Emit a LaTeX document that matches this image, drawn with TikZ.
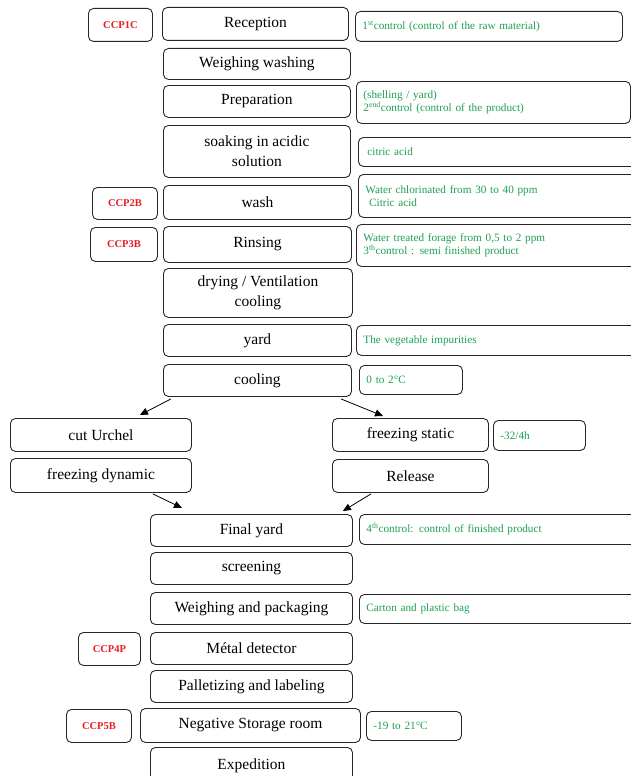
\documentclass[tikz,border=0pt]{standalone}
\usepackage{fontspec}
\setmainfont{Liberation Serif}
\usepackage{tikz}
\usetikzlibrary{positioning,shapes,arrows.meta,calc}

\definecolor{ccpred}{RGB}{232,28,36}
\definecolor{notegreen}{RGB}{28,160,80}

\tikzset{
  box/.style={draw=black!85, line width=0.9pt, rounded corners=5pt, anchor=north west, inner sep=0pt},
  stepbox/.style={box, align=center, font=\fontsize{15.5}{20}\selectfont},
  ccpbox/.style={box, text=ccpred, font=\bfseries\fontsize{10.5}{12}\selectfont},
  notebox/.style={box, align=left, inner xsep=7pt, text=notegreen, font=\fontsize{11.2}{13}\selectfont},
  flow/.style={line width=0.8pt, -{Triangle[length=8pt,width=7pt]}}
}

\begin{document}
\begin{tikzpicture}[x=1pt, y=-1pt]
  \useasboundingbox (0,0) rectangle (631,776);
  \clip (0,0) rectangle (631,776);

  % upper line of steps
  \node[ccpbox, minimum width=64, minimum height=33] (ccp1) at (88,8) {CCP1C};
  \node[stepbox, minimum width=186, minimum height=33] (recep) at (162,7) {Reception};
  \node[notebox, minimum width=267, minimum height=30, text width=253] (ctrl1) at (355,11) {1\textsuperscript{st}control (control of the raw material)};

  \node[stepbox, minimum width=187, minimum height=31] (weighw) at (163,48) {Weighing washing};

  \node[stepbox, minimum width=187, minimum height=32] (prep) at (163,85) {Preparation};
  \node[notebox, minimum width=274, minimum height=42, text width=260] (shell) at (356,81) {(shelling / yard)\\2\textsuperscript{end}control (control of the product)};

  \node[stepbox, minimum width=187, minimum height=52] (soak) at (163,125) {soaking in acidic\\solution};
  \node[notebox, minimum width=290, minimum height=29, text width=272, inner xsep=9pt] (citric) at (358,137) {citric acid};

  \node[ccpbox, minimum width=65, minimum height=32] (ccp2) at (92,187) {CCP2B};
  \node[stepbox, minimum width=188, minimum height=34] (wash) at (163,185) {wash};
  \node[notebox, minimum width=290, minimum height=43, text width=276, inner xsep=6pt] (chlor) at (358,174) {Water chlorinated from 30 to 40 ppm\\ \ Citric acid};

  \node[ccpbox, minimum width=67, minimum height=34] (ccp3) at (90,227) {CCP3B};
  \node[stepbox, minimum width=188, minimum height=36] (rinse) at (163,226) {Rinsing};
  \node[notebox, minimum width=290, minimum height=42, text width=276] (treat) at (356,224) {Water treated forage from 0,5 to 2 ppm\\3\textsuperscript{th}control : semi finished product};

  \node[stepbox, minimum width=189, minimum height=49] (dry) at (163,268) {drying / Ventilation\\cooling};

  \node[stepbox, minimum width=188, minimum height=32] (yard) at (163,324) {yard};
  \node[notebox, minimum width=290, minimum height=30, text width=276] (veg) at (356,325) {The vegetable impurities};

  \node[stepbox, minimum width=188, minimum height=32] (cool) at (163,364) {cooling};
  \node[notebox, minimum width=103, minimum height=29, text width=89] (temp1) at (359,365) {0 to 2°C};

  % the two branches
  \node[stepbox, minimum width=181, minimum height=33] (cutu) at (10,418) {cut Urchel};
  \node[stepbox, minimum width=181, minimum height=34] (fdyn) at (10,458) {freezing dynamic};
  \node[stepbox, minimum width=156, minimum height=33] (fstat) at (332,418) {freezing static};
  \node[notebox, minimum width=92, minimum height=30, text width=78] (time1) at (493,420) {-32/4h};
  \node[stepbox, minimum width=156, minimum height=33] (release) at (332,459) {Release};

  % lower line of steps
  \node[stepbox, minimum width=202, minimum height=32] (fyard) at (150,514) {Final yard};
  \node[notebox, minimum width=290, minimum height=30, text width=276] (ctrl4) at (359,514) {4\textsuperscript{th}control: control of finished product};

  \node[stepbox, minimum width=202, minimum height=32] (screen) at (150,552) {screening};

  \node[stepbox, minimum width=202, minimum height=32] (wpack) at (150,592) {Weighing and packaging};
  \node[notebox, minimum width=290, minimum height=29, text width=276] (carton) at (359,594) {Carton and plastic bag};

  \node[ccpbox, minimum width=62, minimum height=33] (ccp4) at (78,632) {CCP4P};
  \node[stepbox, minimum width=202, minimum height=32] (metal) at (150,632) {Métal detector};

  \node[stepbox, minimum width=202, minimum height=32] (pallet) at (150,670) {Palletizing and labeling};

  \node[ccpbox, minimum width=65, minimum height=33] (ccp5) at (66,709) {CCP5B};
  \node[stepbox, minimum width=220, minimum height=34] (store) at (140,708) {Negative Storage room};
  \node[notebox, minimum width=95, minimum height=29, text width=81] (temp2) at (366,711) {-19 to 21°C};

  \node[stepbox, minimum width=202, minimum height=36] (exped) at (150,747) {Expedition};

  \draw[flow] ([xshift=8pt,yshift=-2pt]cool.south west) -- ([xshift=-52pt,yshift=3pt]cutu.north east);
  \draw[flow] ([xshift=-11pt,yshift=-2pt]cool.south east) -- ([xshift=51pt,yshift=2pt]fstat.north west);
  \draw[flow] ([xshift=-39pt,yshift=-1pt]fdyn.south east) -- ([xshift=32pt,yshift=6pt]fyard.north west);
  \draw[flow] ([xshift=39pt,yshift=-1pt]release.south west) -- ([xshift=-10pt,yshift=3pt]fyard.north east);
\end{tikzpicture}
\end{document}
